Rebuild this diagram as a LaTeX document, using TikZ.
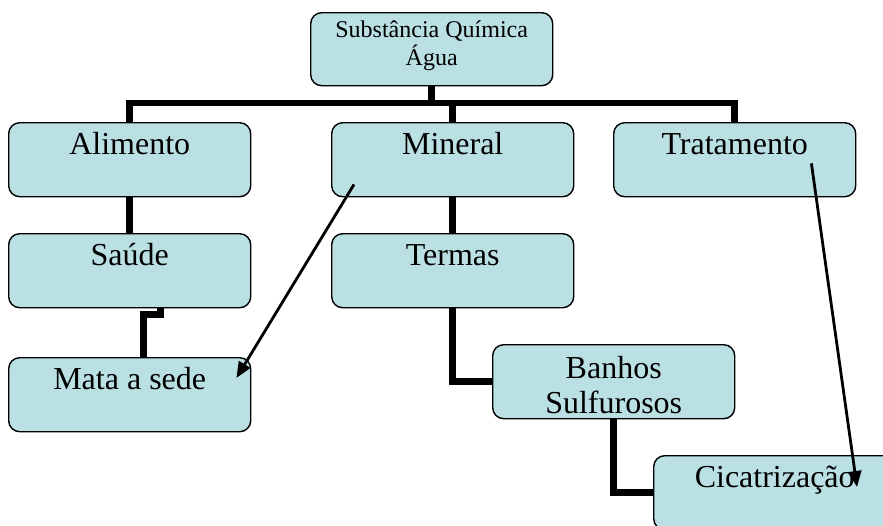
\documentclass[tikz,border=0pt]{standalone}
\usepackage{fontspec}
\setmainfont{Liberation Serif}
\usetikzlibrary{arrows.meta}
\definecolor{boxfill}{RGB}{186,224,227}
\tikzset{
  box/.style={draw=black, fill=boxfill, line width=1.4pt, rounded corners=11pt,
    anchor=north west, minimum width=242pt, minimum height=74pt, inner sep=0pt,
    align=center, text height=32pt, text depth=42pt,
    font=\fontsize{32}{35}\selectfont},
  conn/.style={line width=6.5pt, line join=miter},
  pointer/.style={line width=2.8pt, -{Triangle[length=16pt,width=13pt]}}
}
\begin{document}
\begin{tikzpicture}[x=1pt, y=-1pt]
  \useasboundingbox (0,0) rectangle (883,525);

  % org-chart boxes (for two-line labels the baseline is the last line)
  \node[box, minimum height=73pt, text height=53pt, text depth=20pt,
        font=\fontsize{24}{28}\selectfont] (top) at (310,12) {Substância Química\\Água};
  \node[box] (alim)    at (8,122)   {Alimento};
  \node[box] (mineral) at (331,122) {Mineral};
  \node[box] (trat)    at (613,122) {Tratamento};
  \node[box] (saude)   at (8,233)   {Saúde};
  \node[box] (termas)  at (331,233) {Termas};
  \node[box] (mata)    at (8,357)   {Mata a sede};
  \node[box, text height=69pt, text depth=5pt] (banhos) at (492,344) {Banhos\\Sulfurosos};
  \node[box] (cicat)   at (653,455) {Cicatrização};

  % hierarchy connectors
  \coordinate (bar) at (0,103);
  \draw[conn] (top.south) -- (top.south |- bar);
  \draw[conn] (alim.north) -- (alim.north |- bar) -- (trat.north |- bar) -- (trat.north);
  \draw[conn] (mineral.north) -- (mineral.north |- bar);
  \draw[conn] (alim.south) -- (saude.north);
  \draw[conn] ([xshift=31pt]saude.south) -- ++(0,6) -| ([xshift=14pt]mata.north);
  \draw[conn] (mineral.south) -- (termas.north);
  \draw[conn] (termas.south) -- (termas.south |- banhos.west) -- (banhos.west);
  \draw[conn] (banhos.south) -- (banhos.south |- cicat.west) -- (cicat.west);

  % cross-links
  \coordinate (p1) at ([shift={(23,-13)}]mineral.south west);
  \coordinate (q1) at ([shift={(-15,21)}]mata.north east);
  \coordinate (p2) at ([shift={(-45,-34)}]trat.south east);
  \coordinate (q2) at ([shift={(204,32)}]cicat.north west);
  \draw[pointer] (p1) -- (q1);
  \draw[pointer] (p2) -- (q2);
\end{tikzpicture}
\end{document}
